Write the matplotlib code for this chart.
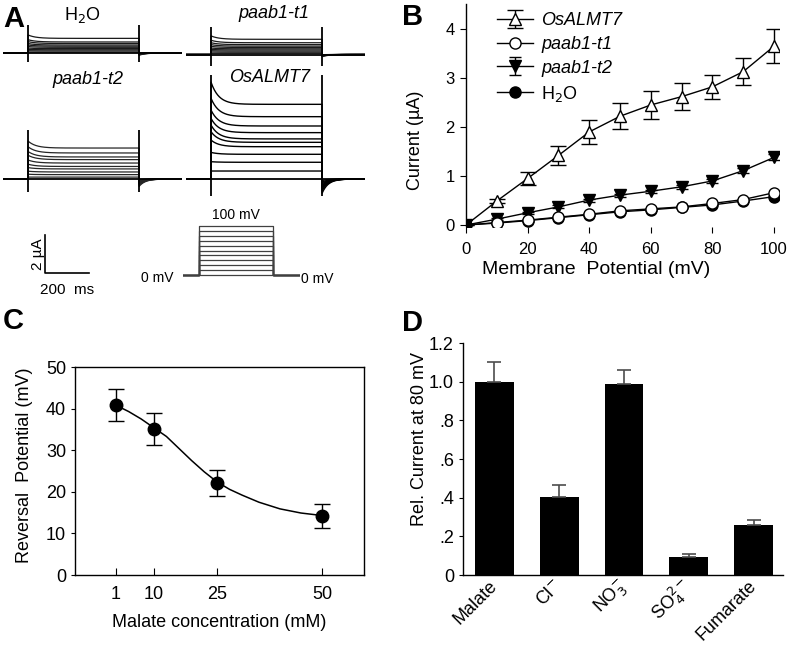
import numpy as np
import matplotlib
matplotlib.use("Agg")
import matplotlib.pyplot as plt
import matplotlib.transforms as mtransforms

plt.rcParams['font.family'] = ['Liberation Sans', 'DejaVu Sans']
plt.rcParams['axes.linewidth'] = 1.0

W, H = 789, 647

# ---------------- panel A: current traces (uA), one per 10 mV step (10..100 mV)
h2o_ss = [0.77, 0.58, 0.50, 0.42, 0.36, 0.30, 0.23, 0.17, 0.11, 0.05]
h2o_pk = [0.95, 0.70, 0.60, 0.50, 0.42, 0.34, 0.26, 0.19, 0.12, 0.05]
t1_ss = [0.80, 0.62, 0.52, 0.44, 0.37, 0.30, 0.24, 0.18, 0.12, 0.06]
t1_pk = [0.98, 0.75, 0.62, 0.52, 0.43, 0.34, 0.27, 0.20, 0.13, 0.06]
t2_ss = [1.63, 1.37, 1.16, 1.02, 0.84, 0.66, 0.53, 0.37, 0.23, 0.10]
t2_pk = [2.00, 1.70, 1.45, 1.25, 1.00, 0.78, 0.60, 0.41, 0.25, 0.10]
os_ss = [3.93, 3.28, 2.79, 2.44, 2.11, 1.93, 1.70, 1.30, 0.88, 0.42]
os_pk = [5.10, 4.25, 3.63, 3.19, 2.84, 2.49, 2.05, 1.40, 0.91, 0.42]
tail_max = {'h2o': 0.12, 't1': 0.12, 't2': 0.39, 'os': 0.75}
spikes = {'h2o': (1.47, -0.47), 't1': (1.44, -0.58), 't2': (2.58, -0.67), 'os': (5.5, -0.9)}
pulse_ms = 505
step_mv = [0, 10, 20, 30, 40, 50, 60, 70, 80, 90, 100]

# ---------------- panel B: I-V curves
mv = [0, 10, 20, 30, 40, 50, 60, 70, 80, 90, 100]
osalmt7 = [0, 0.49, 0.95, 1.42, 1.90, 2.22, 2.45, 2.62, 2.82, 3.13, 3.65]
osalmt7_err = [0, 0.04, 0.13, 0.20, 0.25, 0.27, 0.28, 0.27, 0.25, 0.28, 0.34]
paab1_t1 = [0, 0.05, 0.10, 0.16, 0.22, 0.29, 0.33, 0.37, 0.44, 0.52, 0.66]
paab1_t2 = [0, 0.12, 0.25, 0.37, 0.51, 0.61, 0.69, 0.78, 0.90, 1.11, 1.38]
paab1_t2_err = [0, 0.02, 0.02, 0.03, 0.03, 0.03, 0.03, 0.04, 0.04, 0.05, 0.06]
h2o = [0, 0.04, 0.09, 0.15, 0.21, 0.27, 0.31, 0.36, 0.41, 0.49, 0.58]

# ---------------- panel C: reversal potential
malate_mm = [1, 10, 25, 50]
erev = [40.8, 35.1, 22.1, 14.1]
erev_err = [3.9, 3.9, 3.2, 2.9]
fit_x = [1, 4, 7, 10, 13, 16, 19, 22, 25, 28, 31, 35, 40, 45, 50]
fit_y = [40.8, 39.3, 37.5, 35.4, 33.3, 30.4, 27.5, 24.8, 22.4, 20.6, 19.2, 17.5, 15.9, 14.9, 14.3]

# ---------------- panel D: anion selectivity
anions = ['Malate', 'Cl$^{-}$', 'NO$_3^{-}$', 'SO$_4^{2-}$', 'Fumarate']
rel_current = [1.0, 0.405, 0.99, 0.095, 0.26]
rel_err = [0.10, 0.058, 0.07, 0.012, 0.025]

fig = plt.figure(figsize=(W / 100, H / 100), dpi=100)


def px_axes(left, top, right, bottom):
    return fig.add_axes([left / W, 1 - bottom / H, (right - left) / W, (bottom - top) / H])


def fx(x):
    return x / W


def fy(y):
    return 1 - y / H


# ---- panel A
PX_MS = 0.22
PX_UA = 19.0


def trace_ax(x0, base, ilo, ihi, tlo=-114, thi=700):
    ax = px_axes(x0 + tlo * PX_MS, base - ihi * PX_UA, x0 + thi * PX_MS, base - ilo * PX_UA)
    ax.set_xlim(tlo, thi)
    ax.set_ylim(ilo, ihi)
    ax.axis('off')
    return ax


def draw_traces(ax, ss, pk, key, color, lw):
    tmax = tail_max[key]
    t_on = np.linspace(0, pulse_ms, 200)
    t_off = np.linspace(pulse_ms, 700, 120)
    for s, p in zip(ss, pk):
        i_on = s + (p - s) * np.exp(-t_on / 35.0)
        i_off = -tmax * s / ss[0] * np.exp(-(t_off - pulse_ms) / 28.0)
        t = np.concatenate([[-114, 0], t_on, t_off])
        i = np.concatenate([[0, 0], i_on, i_off])
        ax.plot(t, i, color=color, lw=lw)
    ax.plot([-114, 700], [0, 0], color='black', lw=1.3)
    up, down = spikes[key]
    ax.vlines([0, pulse_ms], down, up, color='black', lw=1.3)


ax_h = trace_ax(28, 53, -0.8, 1.6)
draw_traces(ax_h, h2o_ss, h2o_pk, 'h2o', '0.1', 0.9)
ax_t1 = trace_ax(211, 54.5, -0.8, 1.6)
draw_traces(ax_t1, t1_ss, t1_pk, 't1', '0.1', 0.9)
ax_t2 = trace_ax(28, 179, -6.3, 2.8)
draw_traces(ax_t2, t2_ss, t2_pk, 't2', '0.15', 0.9)
ax_os = trace_ax(211, 179, -1.2, 5.8)
draw_traces(ax_os, os_ss, os_pk, 'os', 'black', 1.0)

# scale bar: 2 uA / 200 ms
sb_t, sb_i = 77, -4.95
ax_t2.plot([sb_t, sb_t, sb_t + 200], [sb_i + 2, sb_i, sb_i], color='black', lw=1.2)
ax_t2.text(sb_t - 30, sb_i + 1, '2 µA', rotation=90, ha='center', va='center', fontsize=11)
ax_t2.text(sb_t + 100, sb_i - 0.9, '200  ms', ha='center', va='center', fontsize=11)

fig.text(fx(82), fy(15), 'H$_2$O', ha='center', va='center', fontsize=13)
fig.text(fx(274), fy(14), 'paab1-t1', ha='center', va='center', fontsize=13, style='italic')
fig.text(fx(88), fy(80), 'paab1-t2', ha='center', va='center', fontsize=13, style='italic')
fig.text(fx(270), fy(78), 'OsALMT7', ha='center', va='center', fontsize=13, style='italic')

# voltage protocol
k = 74 / pulse_ms
ax_p = px_axes(199 - 110 * k, 275 - 110 * 0.49, 199 + 690 * k, 275 + 10 * 0.49)
ax_p.set_xlim(-110, 690)
ax_p.set_ylim(-10, 110)
ax_p.axis('off')
for v in step_mv:
    ax_p.plot([-110, 0, 0, pulse_ms, pulse_ms, 690], [0, 0, v, v, 0, 0], color='0.25', lw=0.9)
ax_p.annotate('100 mV', (pulse_ms / 2, 100), xytext=(0, 3), textcoords='offset points',
              ha='center', va='bottom', fontsize=10)
ax_p.annotate('0 mV', (-110, 0), xytext=(-7, -2), textcoords='offset points',
              ha='right', va='center', fontsize=10)
ax_p.annotate('0 mV', (690, 0), xytext=(1, -3), textcoords='offset points',
              ha='left', va='center', fontsize=10)

# ---- panel B
axB = px_axes(466, 4.5, 779, 226.5)
axB.errorbar(mv, osalmt7, yerr=osalmt7_err, color='black', lw=1, marker='^', ms=8,
             mfc='white', mec='black', capsize=6, elinewidth=1, label='OsALMT7', zorder=2)
axB.errorbar(mv, paab1_t2, yerr=paab1_t2_err, color='black', lw=1, marker='v', ms=8,
             mfc='black', mec='black', capsize=4, elinewidth=1, label='paab1-t2', zorder=3)
axB.plot(mv, h2o, color='black', lw=1, marker='o', ms=8, mfc='black', mec='black',
         label='H$_2$O', zorder=4)
axB.plot(mv, paab1_t1, color='black', lw=1, marker='o', ms=8, mfc='white', mec='black',
         markevery=slice(1, None), label='paab1-t1', zorder=5)
axB.set_xlim(0, 101.6)
axB.set_ylim(-0.03, 4.5)
axB.set_xticks([0, 20, 40, 60, 80, 100])
axB.set_yticks([0, 1, 2, 3, 4])
axB.spines['top'].set_visible(False)
axB.spines['right'].set_visible(False)
axB.spines['bottom'].set_visible(False)
axB.tick_params(direction='out', length=4, labelsize=12, pad=4)
axB.tick_params(axis='x', pad=7)
axB.set_xlabel('Membrane  Potential (mV)', fontsize=14)
axB.xaxis.set_label_coords(0.415, -0.155)
axB.set_ylabel('Current (µA)', fontsize=13)
axB.yaxis.set_label_coords(-0.135, 0.39)
h, l = axB.get_legend_handles_labels()
order = [l.index('OsALMT7'), l.index('paab1-t1'), l.index('paab1-t2'), l.index('H$_2$O')]
leg = axB.legend([h[i] for i in order], [l[i] for i in order], loc='upper left',
                 bbox_to_anchor=(fx(497), fy(12)), bbox_transform=fig.transFigure,
                 frameon=False, fontsize=13, handlelength=2.0, handletextpad=0.45,
                 labelspacing=0.38, borderpad=0, borderaxespad=0)
for txt in leg.get_texts()[:3]:
    txt.set_style('italic')

# ---- panel C
axC = px_axes(75, 367, 364, 575)
axC.plot(fit_x, fit_y, color='black', lw=1.1)
axC.errorbar(malate_mm, erev, yerr=erev_err, fmt='o', color='black', ms=9, capsize=6,
             elinewidth=1, capthick=1)
axC.set_xlim(-8.75, 60)
axC.set_ylim(0, 50)
axC.set_xticks(malate_mm)
axC.set_yticks([0, 10, 20, 30, 40, 50])
axC.tick_params(axis='x', direction='in', length=5, labelsize=13, pad=8)
axC.tick_params(axis='y', direction='out', length=3, labelsize=13)
axC.set_xlabel('Malate concentration (mM)', fontsize=13, labelpad=8)
axC.set_ylabel('Reversal  Potential (mV)', fontsize=13)
axC.yaxis.set_label_coords(-0.145, 0.53)

# ---- panel D
axD = px_axes(463, 343, 783, 575)
xpos = np.arange(len(anions))
axD.bar(xpos, rel_current, width=0.6, color='black')
axD.errorbar(xpos, rel_current, yerr=[np.zeros(len(rel_err)), rel_err], fmt='none',
             ecolor='0.3', elinewidth=1.2, capsize=5, capthick=1.2)
axD.set_xlim(-0.48, 4.45)
axD.set_ylim(0, 1.2)
axD.set_yticks([0, 0.2, 0.4, 0.6, 0.8, 1.0, 1.2])
axD.set_yticklabels(['0', '.2', '.4', '.6', '.8', '1.0', '1.2'])
axD.set_xticks(xpos)
axD.set_xticklabels(anions, rotation=45, ha='right', va='center', rotation_mode='anchor')
shift = mtransforms.ScaledTranslation(9 / 100, 0, fig.dpi_scale_trans)
for lab in axD.get_xticklabels():
    lab.set_transform(lab.get_transform() + shift)
axD.spines['top'].set_visible(False)
axD.spines['right'].set_visible(False)
axD.tick_params(axis='x', length=0, labelsize=13, pad=6)
axD.tick_params(axis='y', direction='out', length=3, labelsize=13)
axD.set_ylabel('Rel. Current at 80 mV', fontsize=13)
axD.yaxis.set_label_coords(-0.11, 0.586)

# panel letters
for letter, x, y in [('A', 3, 5), ('B', 402, 3), ('C', 3, 307), ('D', 402, 309)]:
    fig.text(fx(x), fy(y), letter, ha='left', va='top', fontsize=21, fontweight='bold')

fig.savefig('out.png', dpi=100)
